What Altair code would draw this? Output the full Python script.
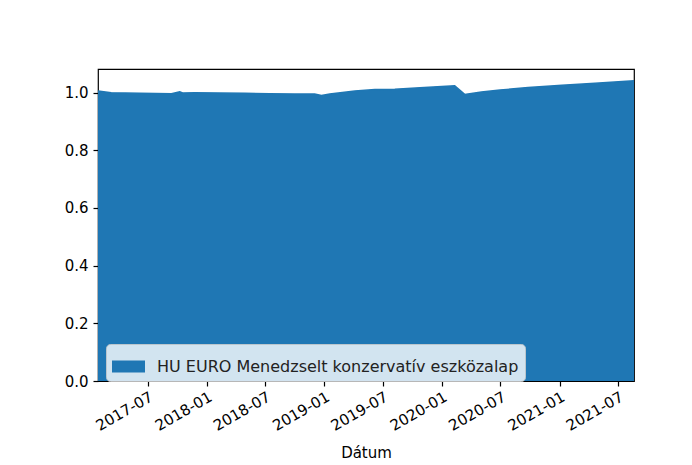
import altair as alt
import pandas as pd

dates = ["2017-01-28", "2017-03-10", "2017-06-06", "2017-09-13", "2017-10-09",
         "2017-10-18", "2017-11-24", "2018-04-29", "2018-07-15", "2018-10-01",
         "2018-12-02", "2018-12-23", "2019-01-18", "2019-04-06", "2019-06-07",
         "2019-08-08", "2019-10-25", "2020-02-10", "2020-03-12", "2020-05-03",
         "2020-06-30", "2020-09-25", "2021-01-08", "2021-04-21", "2021-08-20"]
values = [1.006, 1.000, 0.998, 0.996, 1.003,
          0.999, 1.000, 0.998, 0.996, 0.995,
          0.995, 0.990, 0.995, 1.006, 1.011,
          1.012, 1.017, 1.024, 0.994, 1.002,
          1.009, 1.018, 1.026, 1.033, 1.041]
series_name = "HU EURO Menedzselt konzervatív eszközalap"
x_ticks = [(2017, 7), (2018, 1), (2018, 7), (2019, 1), (2019, 7),
           (2020, 1), (2020, 7), (2021, 1), (2021, 7)]
y_ticks = [0.0, 0.2, 0.4, 0.6, 0.8, 1.0]

df = pd.DataFrame({"Dátum": dates, "value": values, "series": series_name})

FONT = "DejaVu Sans"
FS = 15

chart = alt.Chart(df).mark_area(
    color="#1f77b4", stroke="#1f77b4", strokeWidth=1.5, clip=True
).encode(
    x=alt.X("Dátum:T",
            scale=alt.Scale(type="utc", nice=False),
            axis=alt.Axis(
                values=[alt.DateTime(year=y, month=m, date=1, utc=True) for y, m in x_ticks],
                format="%Y-%m", labelAngle=-30, labelAlign="right",
                labelBaseline="top", labelPadding=3, title="Dátum",
                titlePadding=12, grid=False, domain=False,
                tickSize=5, tickWidth=1.2, tickColor="black",
                labelFont=FONT, labelFontSize=FS, labelColor="black",
                titleFont=FONT, titleFontSize=FS, titleFontWeight="normal",
                titleColor="black", labelOverlap=False, labelFlush=False)),
    y=alt.Y("value:Q",
            scale=alt.Scale(domain=[0, 1.082], nice=False, zero=True),
            axis=alt.Axis(values=y_ticks, format=".1f", title=None, grid=False,
                          domain=False, tickSize=5, tickWidth=1.2, tickColor="black",
                          labelPadding=5, labelFont=FONT, labelFontSize=FS,
                          labelColor="black")),
    color=alt.Color("series:N",
                    scale=alt.Scale(domain=[series_name], range=["#1f77b4"]),
                    legend=alt.Legend(
                        title=None, orient="none", legendX=8, legendY=275,
                        symbolType="M-1,-0.36H1V0.36H-1Z", symbolSize=1089,
                        symbolStrokeWidth=0, labelOffset=12, labelLimit=0,
                        labelFont=FONT, labelFontSize=16, labelColor="#222222",
                        fillColor="rgba(255,255,255,0.8)",
                        strokeColor="rgba(204,204,204,0.8)",
                        padding=6, cornerRadius=4)),
).properties(
    width=536, height=312,
    autosize=alt.AutoSizeParams(type="none"),
    padding={"left": 90, "top": 61, "right": 40, "bottom": 84},
    background="white",
).configure_view(
    stroke="black", strokeWidth=1.2
)

chart.save("out.html", embed_options={"renderer": "svg", "actions": False})
